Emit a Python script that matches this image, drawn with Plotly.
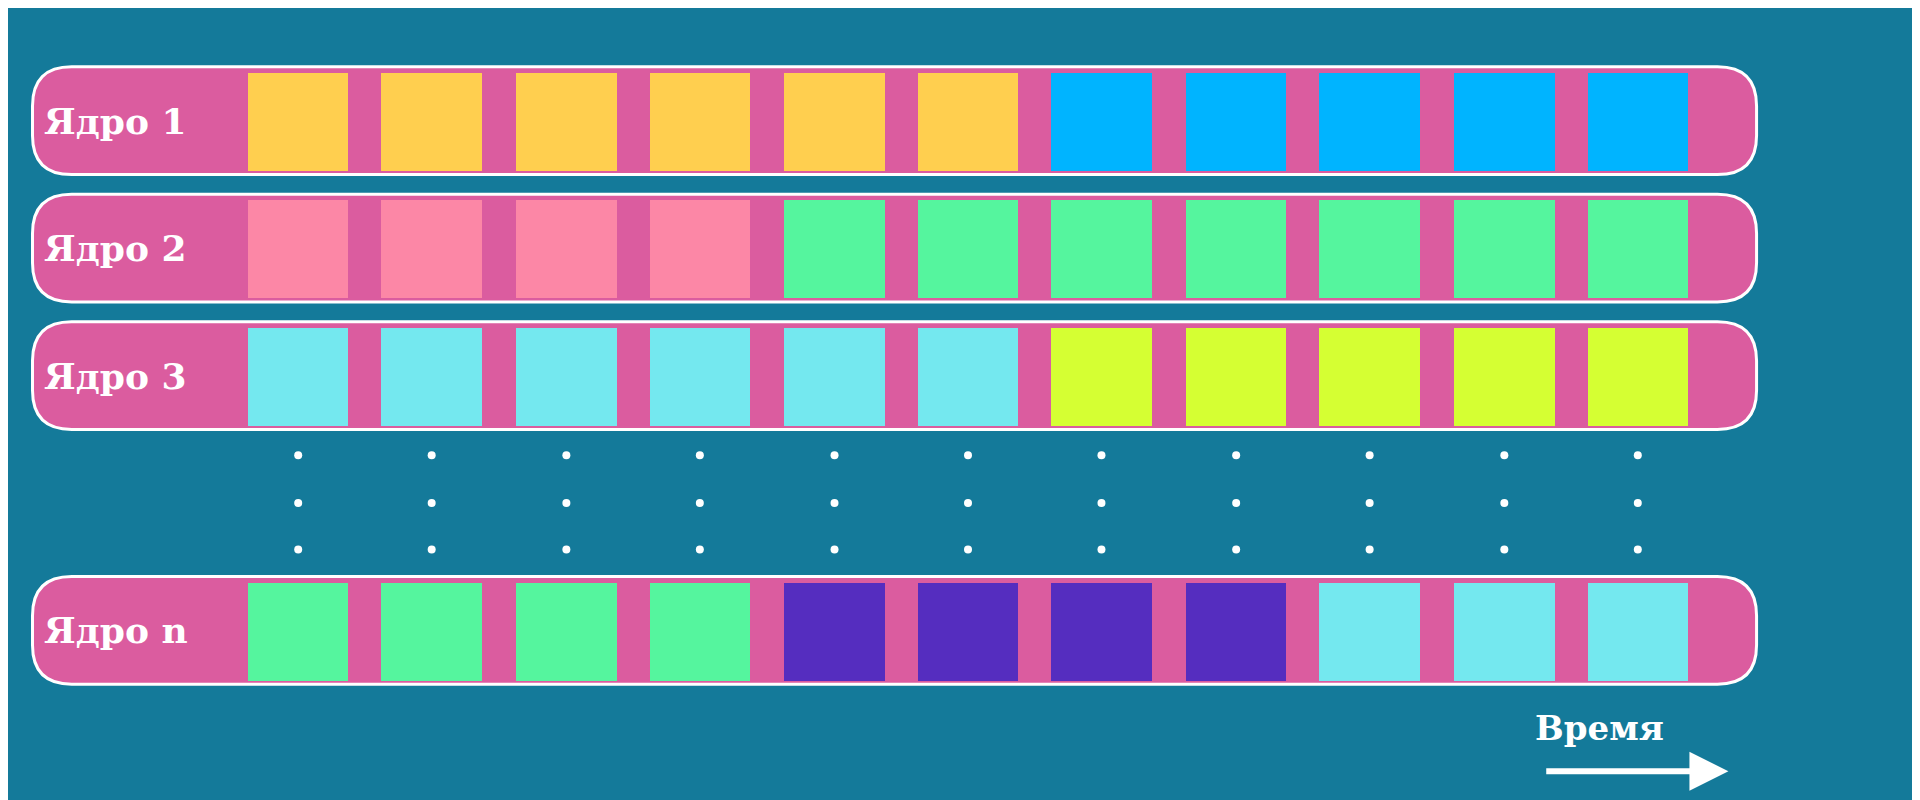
import plotly.graph_objects as go

rows = ["Ядро 1", "Ядро 2", "Ядро 3", "Ядро n"]
row_tops = [48, 152, 256, 464]
slot_x = [237, 346, 456, 565, 675, 784, 893, 1003, 1112, 1222, 1331]
Y, B, P, G, C, L, V = "#FFCF4F", "#00B4FF", "#FC87A6", "#55F59E", "#74E8EF", "#D5FF33", "#552DBF"
colors = [
    [Y]*6 + [B]*5,
    [P]*4 + [G]*7,
    [C]*6 + [L]*5,
    [G]*4 + [V]*4 + [C]*3,
]
dot_y = [365, 404, 442]

fig = go.Figure()
shapes = []
x0, x1, h, r = 20, 1428, 88, 32
for top in row_tops:
    y0, y1 = top, top + h
    path = (f"M {x0+r},{y0} L {x1-r},{y0} Q {x1},{y0} {x1},{y0+r} L {x1},{y1-r} Q {x1},{y1} {x1-r},{y1} "
            f"L {x0+r},{y1} Q {x0},{y1} {x0},{y1-r} L {x0},{y0+r} Q {x0},{y0} {x0+r},{y0} Z")
    shapes.append(dict(type="path", path=path, fillcolor="#DB5C9F",
                       line=dict(color="white", width=3), layer="below"))

for name, top, cols in zip(rows, row_tops, colors):
    fig.add_trace(go.Bar(x=slot_x, y=[80]*len(slot_x), base=[top+5]*len(slot_x),
                         width=82, marker=dict(color=cols, line=dict(width=0)),
                         hoverinfo="skip", showlegend=False))
    fig.add_annotation(x=28, y=top + h/2, text=f"<b>{name}</b>", showarrow=False,
                       xanchor="left", yanchor="middle",
                       font=dict(family="DejaVu Serif", size=36, color="white"))

dx = [x for x in slot_x for _ in dot_y]
dy = [y for _ in slot_x for y in dot_y]
fig.add_trace(go.Scatter(x=dx, y=dy, mode="markers", marker=dict(color="white", size=8),
                         hoverinfo="skip", showlegend=False))

fig.add_annotation(x=1405, y=623, ax=1255, ay=623, xref="x", yref="y", axref="x", ayref="y",
                   showarrow=True, arrowhead=2, arrowsize=1.3, arrowwidth=6, arrowcolor="white", text="")
fig.add_annotation(x=1300, y=588, text="<b>Время</b>", showarrow=False,
                   font=dict(family="DejaVu Serif", size=34, color="white"))

fig.update_layout(width=1920, height=800, margin=dict(l=0, r=0, t=0, b=0),
                  paper_bgcolor="#147A9A", plot_bgcolor="#147A9A", shapes=shapes,
                  bargap=0, barmode="overlay",
                  xaxis=dict(range=[0, 1568], visible=False, fixedrange=True),
                  yaxis=dict(range=[653, 0], visible=False, fixedrange=True))
fig.write_html("out.html")
